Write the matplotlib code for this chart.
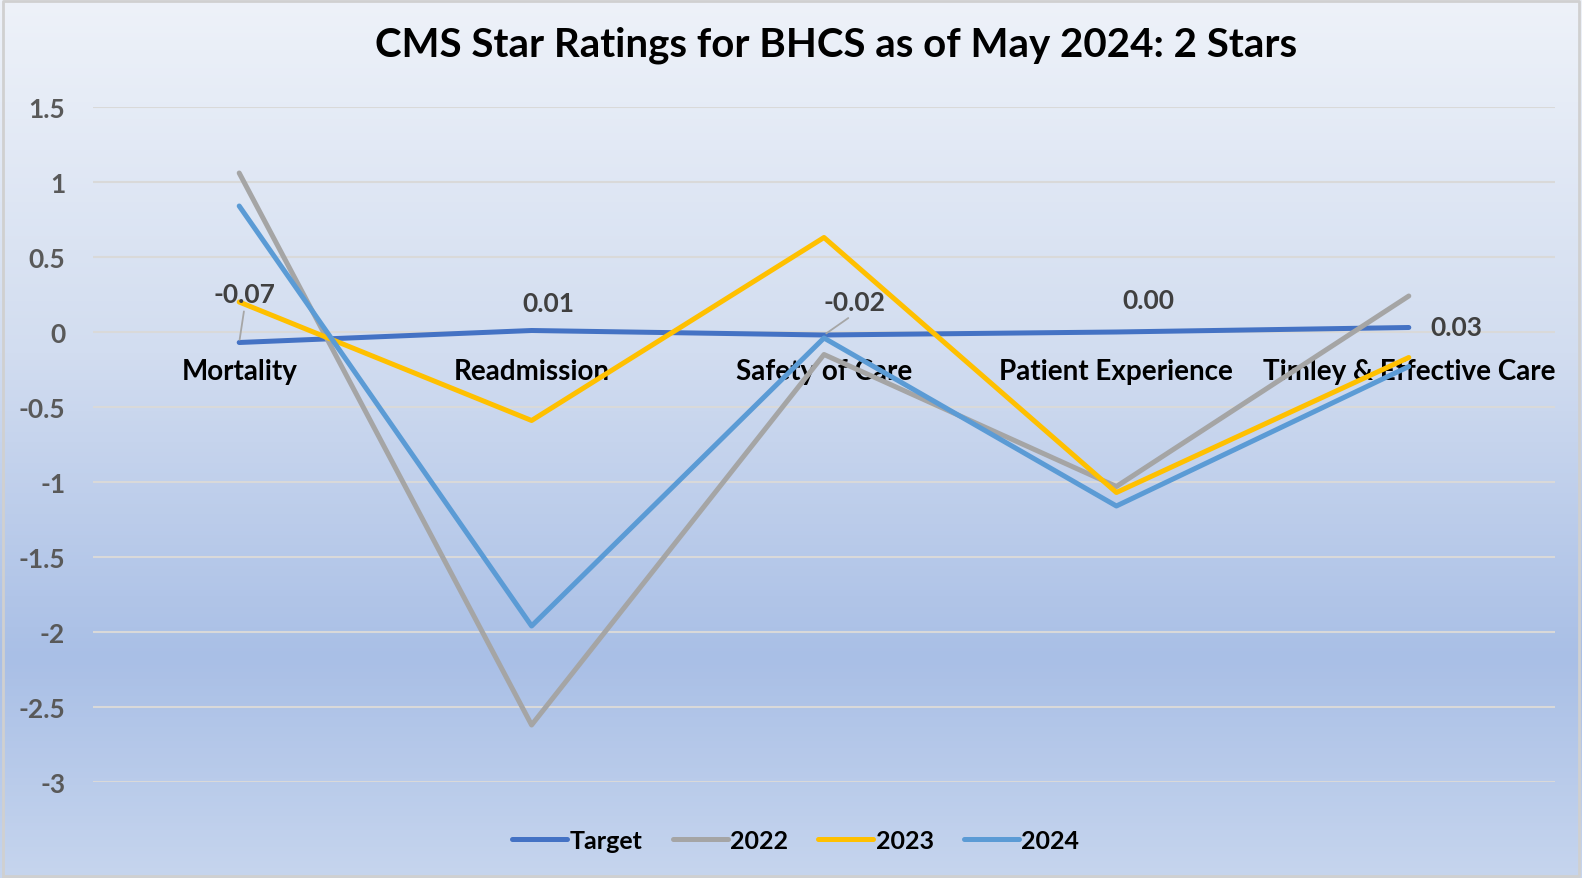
import matplotlib.pyplot as plt
import numpy as np
from matplotlib.colors import LinearSegmentedColormap

categories = ["Mortality", "Readmission", "Safety of Care", "Patient Experience", "Timley & Effective Care"]
target = [-0.07, 0.01, -0.02, 0.00, 0.03]
y2022 = [1.06, -2.62, -0.15, -1.03, 0.24]
y2023 = [0.20, -0.59, 0.63, -1.07, -0.17]
y2024 = [0.84, -1.96, -0.04, -1.16, -0.23]
yticks = [1.5, 1, 0.5, 0, -0.5, -1, -1.5, -2, -2.5, -3]

plt.rcParams['font.family'] = ['Lato', 'DejaVu Sans']
plt.rcParams['font.weight'] = 'bold'

fig = plt.figure(figsize=(15.82, 8.79), dpi=100)

# gradient background
bg = fig.add_axes([0, 0, 1, 1], zorder=-10)
cmap = LinearSegmentedColormap.from_list('bg', [(0, '#eef2f9'), (0.4, '#d2ddf0'), (0.75, '#a9bfe6'), (1.0, '#c6d5ee')])
bg.imshow(np.linspace(0, 1, 256).reshape(-1, 1), aspect='auto', cmap=cmap, extent=[0, 1, 0, 1])
bg.axis('off')
bg.plot([0.002, 0.998, 0.998, 0.002, 0.002], [0.002, 0.002, 0.998, 0.998, 0.002], color='#d0d0d0', lw=2, transform=bg.transAxes)
bg.set_xlim(0, 1)
bg.set_ylim(0, 1)

ax = fig.add_axes([93/1582, 1 - 783/879, (1555 - 93)/1582, (783 - 108)/879])
ax.patch.set_alpha(0)
x = np.arange(len(categories))

ax.plot(x, target, color='#4472c4', lw=3.6, label='Target', solid_capstyle='round', zorder=3)
ax.plot(x, y2022, color='#a5a5a5', lw=3.6, label='2022', solid_capstyle='round', zorder=4)
ax.plot(x, y2023, color='#ffc000', lw=3.6, label='2023', solid_capstyle='round', zorder=5)
ax.plot(x, y2024, color='#5b9bd5', lw=3.6, label='2024', solid_capstyle='round', zorder=6)

ax.set_xlim(-0.5, len(categories) - 0.5)
ax.set_ylim(-3, 1.5)
ax.set_yticks(yticks)
ax.set_yticklabels([f"{t:g}" for t in yticks])
ax.grid(axis='y', color='#d9d9d9', lw=1.5, zorder=0)
for s in ax.spines.values():
    s.set_visible(False)
ax.spines['bottom'].set_position(('data', 0))
ax.tick_params(axis='y', length=0, pad=20, labelsize=19, labelcolor='#595959')
ax.tick_params(axis='x', length=0, pad=19, labelsize=20, labelcolor='black')
ax.set_xticks(x)
ax.set_xticklabels(categories, fontweight='bold')
for lab in ax.get_yticklabels():
    lab.set_fontweight('bold')

# data labels for Target
offsets = [(4, 35), (12, 20), (22, 24), (23, 23), (34, 0)]
for i, (v, off) in enumerate(zip(target, offsets)):
    arrow = None
    if i in (0, 2):
        arrow = dict(arrowstyle='-', color='#a6a6a6', lw=1.3, shrinkA=2, shrinkB=2, relpos=(0.5, 0))
    ax.annotate(f"{v:.2f}", (x[i], v), xytext=off, textcoords='offset points',
                ha='center', va='center', fontsize=19, fontweight='bold', color='#404040',
                arrowprops=arrow, zorder=8)

fig.text(0.5287, 0.948, "CMS Star Ratings for BHCS as of May 2024: 2 Stars", ha='center', va='center',
         fontsize=29, fontweight='bold', color='black')

leg = fig.legend(loc='center', bbox_to_anchor=(0.503, 0.043), ncol=4, frameon=False,
                 fontsize=18, handlelength=2.2, handletextpad=0.1, columnspacing=1.2)
for t in leg.get_texts():
    t.set_fontweight('bold')

fig.savefig('out.png', dpi=100)
